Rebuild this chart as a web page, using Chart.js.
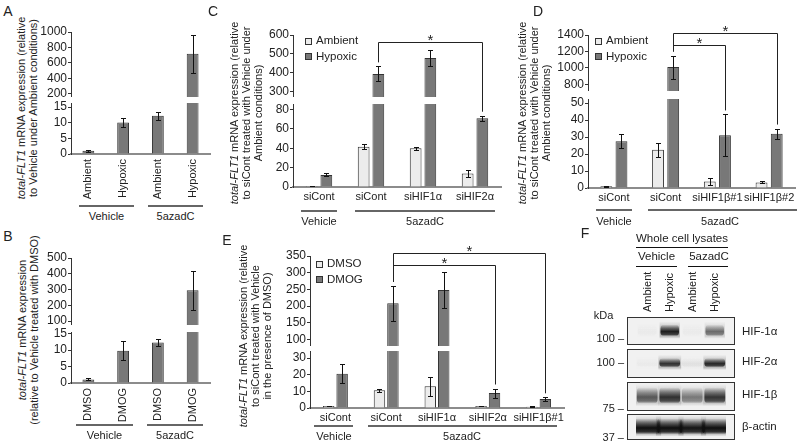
<!DOCTYPE html>
<html>
<head>
<meta charset="utf-8">
<script src="https://cdn.jsdelivr.net/npm/chart.js@4.4.1/dist/chart.umd.min.js"></script>
<style>
  body { margin: 0; background: #fff; font-family: "Liberation Sans", Arial, sans-serif; color: #222; }
  #fig { position: relative; width: 800px; height: 444px; overflow: hidden; }
  canvas { position: absolute; }
  .t { position: absolute; white-space: nowrap; transform: translate(-50%, -50%); font-size: 11px; line-height: 1; }
  .rot { position: absolute; white-space: nowrap; transform: translate(-50%, -50%) rotate(-90deg); text-align: center; font-size: 11px; line-height: 12px; }
  .up { position: absolute; white-space: nowrap; transform-origin: 0 0; transform: rotate(-90deg); font-size: 11px; line-height: 11px; }
  .hl { position: absolute; background: #666; }
  .sq { position: absolute; width: 5px; height: 5px; border: 1px solid #333; }
</style>
</head>
<body>
<div id="fig"></div>
<script>
// ---- data ----
const catsA = ['Ambient', 'Hypoxic', 'Ambient', 'Hypoxic'];
const valsA = [1, 10.1, 12.2, 720];
const errA = [0.3, 1.5, 1.2, 245];
const ticksA = [0, 5, 10, 15, 200, 400, 600, 800, 1000];

const catsB = ['DMSO', 'DMOG', 'DMSO', 'DMOG'];
const valsB = [1.1, 9.8, 12.3, 295];
const errB = [0.3, 2.9, 1.2, 125];
const ticksB = [0, 5, 10, 15, 100, 200, 300, 400, 500];

const catsC = ['siCont', 'siCont', 'siHIF1α', 'siHIF2α'];
const ambC = [1, 41.5, 40, 14];
const ambErrC = [0.3, 2.5, 1.5, 4];
const hypC = [12.5, 393, 477, 71];
const hypErrC = [1.5, 40, 44, 2.5];
const ticksC = [0, 20, 40, 60, 80, 300, 400, 500, 600];

const catsD = ['siCont', 'siCont', 'siHIF1β#1', 'siHIF1β#2'];
const ambD = [1, 22.5, 3.8, 3.3];
const ambErrD = [0.3, 4, 2, 0.6];
const hypD = [27.5, 1010, 31, 32];
const hypErrD = [4.2, 140, 12.3, 3];
const ticksD = [0, 10, 20, 30, 40, 50, 800, 1000, 1200, 1400];

const catsE = ['siCont', 'siCont', 'siHIF1α', 'siHIF2α', 'siHIF1β#1'];
const dmsoE = [1.2, 10.6, 13, 1.2, 0.8];
const dmsoErrE = [0.2, 0.8, 5.5, 0.2, 0.2];
const dmogE = [20.5, 208, 248, 9, 5.4];
const dmogErrE = [5.7, 52, 54, 2.7, 1];
const ticksE = [0, 10, 20, 30, 100, 150, 200, 250, 300, 350];

// western blot (band intensity 0..1 per lane)
const lanes = ['Ambient', 'Hypoxic', 'Ambient', 'Hypoxic'];
const blotNames = ['HIF-1α', 'HIF-2α', 'HIF-1β', 'β-actin'];
const blotMarkers = ['100 –', '100 –', '75 –', '37 –'];
const hif1a = [0.02, 0.9, 0.02, 0.5];
const hif2a = [0.02, 0.8, 0.05, 0.85];
const hif1b = [0.6, 0.8, 0.45, 0.78];
const bactin = [1, 1, 0.97, 1];

Chart.defaults.font.family = '"Liberation Sans", Arial, sans-serif';
Chart.defaults.color = '#222';

// linear scale with a break: lower segment [0, lowMax], gap, upper segment [upMin, max]
class BrokenScale extends Chart.LinearScale {
  getPixelForValue(v) {
    const o = this.options.brk;
    const H = this.bottom - this.top;
    const lowH = H * o.low, gap = H * o.gap, upH = H - lowH - gap;
    if (v <= o.lowMax) return this.bottom - (v - this.min) / (o.lowMax - this.min) * lowH;
    if (v >= o.upMin) return this.top + (this.max - v) / (this.max - o.upMin) * upH;
    return this.bottom - lowH - gap / 2;
  }
  getValueForPixel(p) {
    return this.min + (this.bottom - p) / (this.bottom - this.top) * (this.max - this.min);
  }
}
BrokenScale.id = 'broken';
BrokenScale.defaults = Chart.LinearScale.defaults;
Chart.register(BrokenScale);

const fig = document.getElementById('fig');

function canvasAt(x, y, w, h, parent) {
  const c = document.createElement('canvas');
  c.width = w; c.height = h;
  c.style.left = x + 'px'; c.style.top = y + 'px';
  (parent || fig).appendChild(c);
  return c;
}
function text(str, x, y, size, extra) {
  const d = document.createElement('div');
  d.className = 't';
  d.innerHTML = str;
  d.style.left = x + 'px'; d.style.top = y + 'px';
  if (size) d.style.fontSize = size + 'px';
  if (extra) Object.assign(d.style, extra);
  fig.appendChild(d);
  return d;
}
function vtitle(lines, x, y) {
  const d = document.createElement('div');
  d.className = 'rot';
  d.innerHTML = lines.join('<br>');
  d.style.left = x + 'px'; d.style.top = y + 'px';
  fig.appendChild(d);
}
function hline(x1, x2, y, color, w) {
  const d = document.createElement('div');
  d.className = 'hl';
  d.style.left = x1 + 'px'; d.style.top = (y - (w || 1.5) / 2) + 'px';
  d.style.width = (x2 - x1) + 'px'; d.style.height = (w || 1.5) + 'px';
  if (color) d.style.background = color;
  fig.appendChild(d);
}
function legend(items, x, y) {
  items.forEach((it, i) => {
    const s = document.createElement('div');
    s.className = 'sq';
    s.style.left = x + 'px'; s.style.top = (y + i * 15.5 - 3.5) + 'px';
    s.style.background = it[1];
    fig.appendChild(s);
    text(it[0], x + 11, y + i * 15.5, 11.5, {transform: 'translate(0,-50%)'});
  });
}

const errorBars = {
  id: 'errorBars',
  afterDatasetsDraw(chart) {
    const ctx = chart.ctx, y = chart.scales.y;
    ctx.save();
    ctx.strokeStyle = '#111';
    ctx.lineWidth = 1;
    chart.data.datasets.forEach((ds, di) => {
      chart.getDatasetMeta(di).data.forEach((bar, i) => {
        const v = ds.data[i], e = ds.err[i];
        const x = Math.round(bar.x) + 0.5;
        const yt = Math.round(y.getPixelForValue(v + e)) + 0.5;
        const yb = Math.round(y.getPixelForValue(Math.max(0, v - e))) + 0.5;
        ctx.beginPath();
        ctx.moveTo(x, yt); ctx.lineTo(x, yb);
        ctx.moveTo(x - 2.5, yt); ctx.lineTo(x + 2.5, yt);
        ctx.moveTo(x - 2.5, yb); ctx.lineTo(x + 2.5, yb);
        ctx.stroke();
      });
    });
    ctx.restore();
  }
};

function overlay(brackets) {
  return {
    id: 'overlay',
    afterDraw(chart) {
      const {ctx, chartArea: a, scales: {y}} = chart;
      const o = y.options.brk;
      const yUp = y.getPixelForValue(o.upMin), yLow = y.getPixelForValue(o.lowMax);
      ctx.save();
      ctx.fillStyle = '#fff';
      ctx.fillRect(a.left - 2, yUp, a.right - a.left + 2, yLow - yUp);
      if (brackets) {
        const meta = chart.getDatasetMeta(1), ds = chart.data.datasets[1];
        ctx.strokeStyle = '#222';
        ctx.lineWidth = 1;
        ctx.fillStyle = '#222';
        ctx.font = '15px "Liberation Sans", Arial';
        ctx.textAlign = 'center';
        brackets.forEach(b => {
          const yb = Math.round(y.getPixelForValue(b.at)) + 0.5;
          const xa = Math.round(meta.data[b.from].x) + 0.5;
          const xb = Math.round(meta.data[b.to].x) + 0.5;
          const ea = y.getPixelForValue(ds.data[b.from] + ds.err[b.from]) - 4;
          const eb = y.getPixelForValue(ds.data[b.to] + ds.err[b.to]) - 4;
          ctx.beginPath();
          ctx.moveTo(xa, ea); ctx.lineTo(xa, yb); ctx.lineTo(xb, yb); ctx.lineTo(xb, eb);
          ctx.stroke();
          ctx.fillText('*', (xa + xb) / 2, yb + 2);
        });
      }
      ctx.restore();
    }
  };
}

function brokenChart(g, labels, datasets, ticks, rot, brackets) {
  const YW = 40, PT = 16, PR = 14, XH = rot ? 50 : 22;
  const H = g.bottom - g.top;
  const cv = canvasAt(g.left - YW, g.top - PT, YW + (g.right - g.left) + PR, PT + H + XH);
  return new Chart(cv, {
    type: 'bar',
    data: {labels: labels, datasets: datasets},
    options: {
      responsive: false,
      animation: false,
      layout: {padding: {top: PT, right: PR, left: 0, bottom: 0}},
      plugins: {legend: {display: false}, tooltip: {enabled: false}},
      scales: {
        x: {
          grid: {display: false, drawTicks: false},
          border: {color: '#8c8c8c', width: 2},
          ticks: {font: {size: 11}, padding: rot ? 5 : 3,
                  minRotation: rot ? 90 : 0, maxRotation: rot ? 90 : 0, autoSkip: false},
          afterFit: s => { s.height = XH; }
        },
        y: {
          type: 'broken', min: 0, max: g.upMax,
          brk: {lowMax: g.lowMax, upMin: g.upMin, low: g.lowH / H, gap: g.gap / H},
          afterBuildTicks: s => { s.ticks = ticks.map(v => ({value: v})); },
          afterFit: s => { s.width = YW; },
          grid: {drawOnChartArea: false, tickLength: 3, color: '#333'},
          border: {color: '#333', width: 1},
          ticks: {autoSkip: false, padding: 1, font: {size: 12}, callback: v => String(v)}
        }
      }
    },
    plugins: [errorBars, overlay(brackets)]
  });
}

const DARK = '#787878', LIGHT = '#ececec', EDGE = '#333';
function single(vals, errs) {
  return [{data: vals, err: errs, backgroundColor: DARK, borderColor: EDGE, borderWidth: 1,
           barPercentage: 0.34, categoryPercentage: 1}];
}
function pair(a, ae, b, be, cp, bp) {
  return [
    {data: a, err: ae, backgroundColor: LIGHT, borderColor: EDGE, borderWidth: 1, barPercentage: bp, categoryPercentage: cp},
    {data: b, err: be, backgroundColor: DARK, borderColor: EDGE, borderWidth: 1, barPercentage: bp, categoryPercentage: cp}
  ];
}

const yTitleTop = '<i>total-FLT1</i> mRNA expression (relative';

// ---- A ----
text('A', 8, 11, 14);
vtitle([yTitleTop, 'to Vehicle under Ambient conditions)'], 27, 108);
brokenChart({left: 71, right: 210, top: 32, bottom: 154, lowH: 51, gap: 6, lowMax: 16.3, upMin: 160, upMax: 1000},
  catsA, single(valsA, errA), ticksA, true);
hline(79, 134, 206); hline(148, 203, 206);
text('Vehicle', 106.5, 216); text('5azadC', 175.5, 216);

// ---- B ----
text('B', 8, 236, 14);
vtitle(['<i>total-FLT1</i> mRNA expression', '(relative to Vehicle treated with DMSO)'], 27.5, 330);
brokenChart({left: 71, right: 210, top: 258, bottom: 383, lowH: 51, gap: 7, lowMax: 15.5, upMin: 75, upMax: 500},
  catsB, single(valsB, errB), ticksB, true);
hline(76, 133, 425); hline(147, 203, 425);
text('Vehicle', 104.5, 435); text('5azadC', 175, 435);

// ---- C ----
text('C', 213, 11, 14);
vtitle([yTitleTop, 'to siCont treated with Vehicle under', 'Ambient conditions)'], 245.5, 113);
brokenChart({left: 293, right: 501, top: 35, bottom: 187, lowH: 83, gap: 7, lowMax: 85.6, upMin: 270, upMax: 600},
  catsC, pair(ambC, ambErrC, hypC, hypErrC, 0.565, 0.8), ticksC, false, [{from: 1, to: 3, at: 565}]);
legend([['Ambient', LIGHT], ['Hypoxic', DARK]], 305, 41);
hline(301, 337, 211); hline(355, 495, 211);
text('Vehicle', 319, 221); text('5azadC', 425, 221);

// ---- D ----
text('D', 538, 11, 14);
vtitle([yTitleTop, 'to siCont treated with Vehicle under', 'Ambient conditions)'], 534, 113);
brokenChart({left: 588, right: 795, top: 35, bottom: 188, lowH: 89, gap: 8, lowMax: 52.4, upMin: 720, upMax: 1400},
  catsD, pair(ambD, ambErrD, hypD, hypErrD, 0.587, 0.78), ticksD, false,
  [{from: 1, to: 3, at: 1425}, {from: 1, to: 2, at: 1277}]);
legend([['Ambient', LIGHT], ['Hypoxic', DARK]], 595, 41);
hline(596, 632, 210); hline(648, 797, 210);
text('Vehicle', 614, 221); text('5azadC', 720, 221);

// ---- E ----
text('E', 227, 240, 14);
vtitle([yTitleTop, 'to siCont treated with Vehicle', 'in the presence of DMSO)'], 255, 336);
brokenChart({left: 310, right: 564, top: 256, bottom: 408, lowH: 57, gap: 5, lowMax: 34.2, upMin: 80, upMax: 350},
  catsE, pair(dmsoE, dmsoErrE, dmogE, dmogErrE, 0.53, 0.85), ticksE, false,
  [{from: 1, to: 4, at: 359}, {from: 1, to: 3, at: 324}]);
legend([['DMSO', LIGHT], ['DMOG', DARK]], 316, 264);
hline(314, 353, 426); hline(368, 557, 426);
text('Vehicle', 334, 436); text('5azadC', 462, 436);

// ---- F: western blot ----
// soft band: vertical gradient over the band's own value range
function bandFill(band, vals, k) {
  return ctx => {
    const chart = ctx.chart, y = chart.scales.y;
    if (!chart.chartArea || !y) return 'rgba(0,0,0,0)';
    const a = vals[ctx.dataIndex] * k;
    const g = chart.ctx.createLinearGradient(0, y.getPixelForValue(band[1]), 0, y.getPixelForValue(band[0]));
    g.addColorStop(0, `rgba(15,15,15,0)`);
    g.addColorStop(0.3, `rgba(15,15,15,${a * 0.55})`);
    g.addColorStop(0.6, `rgba(15,15,15,${a})`);
    g.addColorStop(0.85, `rgba(15,15,15,${a * 0.8})`);
    g.addColorStop(1, `rgba(15,15,15,0)`);
    return g;
  };
}
function blotStrip(top, h, vals, band, bp) {
  const box = document.createElement('div');
  box.style.cssText = `position:absolute;left:627px;top:${top}px;width:106px;height:${h - 2}px;border:1px solid #333;background:#f1f1f1;overflow:hidden;`;
  fig.appendChild(box);
  const cv = canvasAt(0, 0, 106, h - 2, box);
  const halo = [band[0] - 0.1, band[1] + 0.12];
  new Chart(cv, {
    type: 'bar',
    data: {labels: lanes, datasets: [
      {data: vals.map(() => halo), backgroundColor: bandFill(halo, vals, 0.35),
       barPercentage: bp * 1.1, categoryPercentage: 1, borderWidth: 0, borderSkipped: false, grouped: false},
      {data: vals.map(() => band), backgroundColor: bandFill(band, vals, 1),
       barPercentage: bp, categoryPercentage: 1, borderWidth: 0, borderSkipped: false, grouped: false,
       borderRadius: 4}
    ]},
    options: {
      responsive: false, animation: false,
      layout: {padding: {left: 8, right: 8, top: 0, bottom: 0}},
      plugins: {legend: {display: false}, tooltip: {enabled: false}},
      scales: {x: {display: false}, y: {display: false, min: 0, max: 1}}
    }
  });
}
blotStrip(317, 28, hif1a, [0.3, 0.75], 0.82);
blotStrip(349, 29, hif2a, [0.36, 0.7], 0.92);
blotStrip(382, 29, hif1b, [0.24, 0.84], 0.92);
blotStrip(414, 26, bactin, [0.2, 0.86], 1.12);

text('F', 585, 233, 14);
text('Whole cell lysates', 682, 238.5, 11.5);
hline(636, 728, 247.5, '#111', 1);
text('Vehicle', 656.5, 257, 11.5); text('5azadC', 709, 257, 11.5);
hline(636, 677, 266, '#111', 1); hline(688, 728, 266, '#111', 1);
[647.3, 669.8, 692.3, 714.8].forEach((x, i) => {
  const d = document.createElement('div');
  d.className = 'up';
  d.textContent = lanes[i];
  d.style.left = (x - 5.5) + 'px';
  d.style.top = '312px';
  fig.appendChild(d);
});
text('kDa', 603.5, 314.5, 11);
const markerY = [337.5, 361.5, 407.5, 436.5];
const nameY = [331.5, 362, 395, 427];
blotMarkers.forEach((m, i) => text(m, 624, markerY[i], 11, {transform: 'translate(-100%,-50%)'}));
blotNames.forEach((n, i) => text(n, 742, nameY[i], 11.5, {transform: 'translate(0,-50%)'}));
</script>
</body>
</html>
